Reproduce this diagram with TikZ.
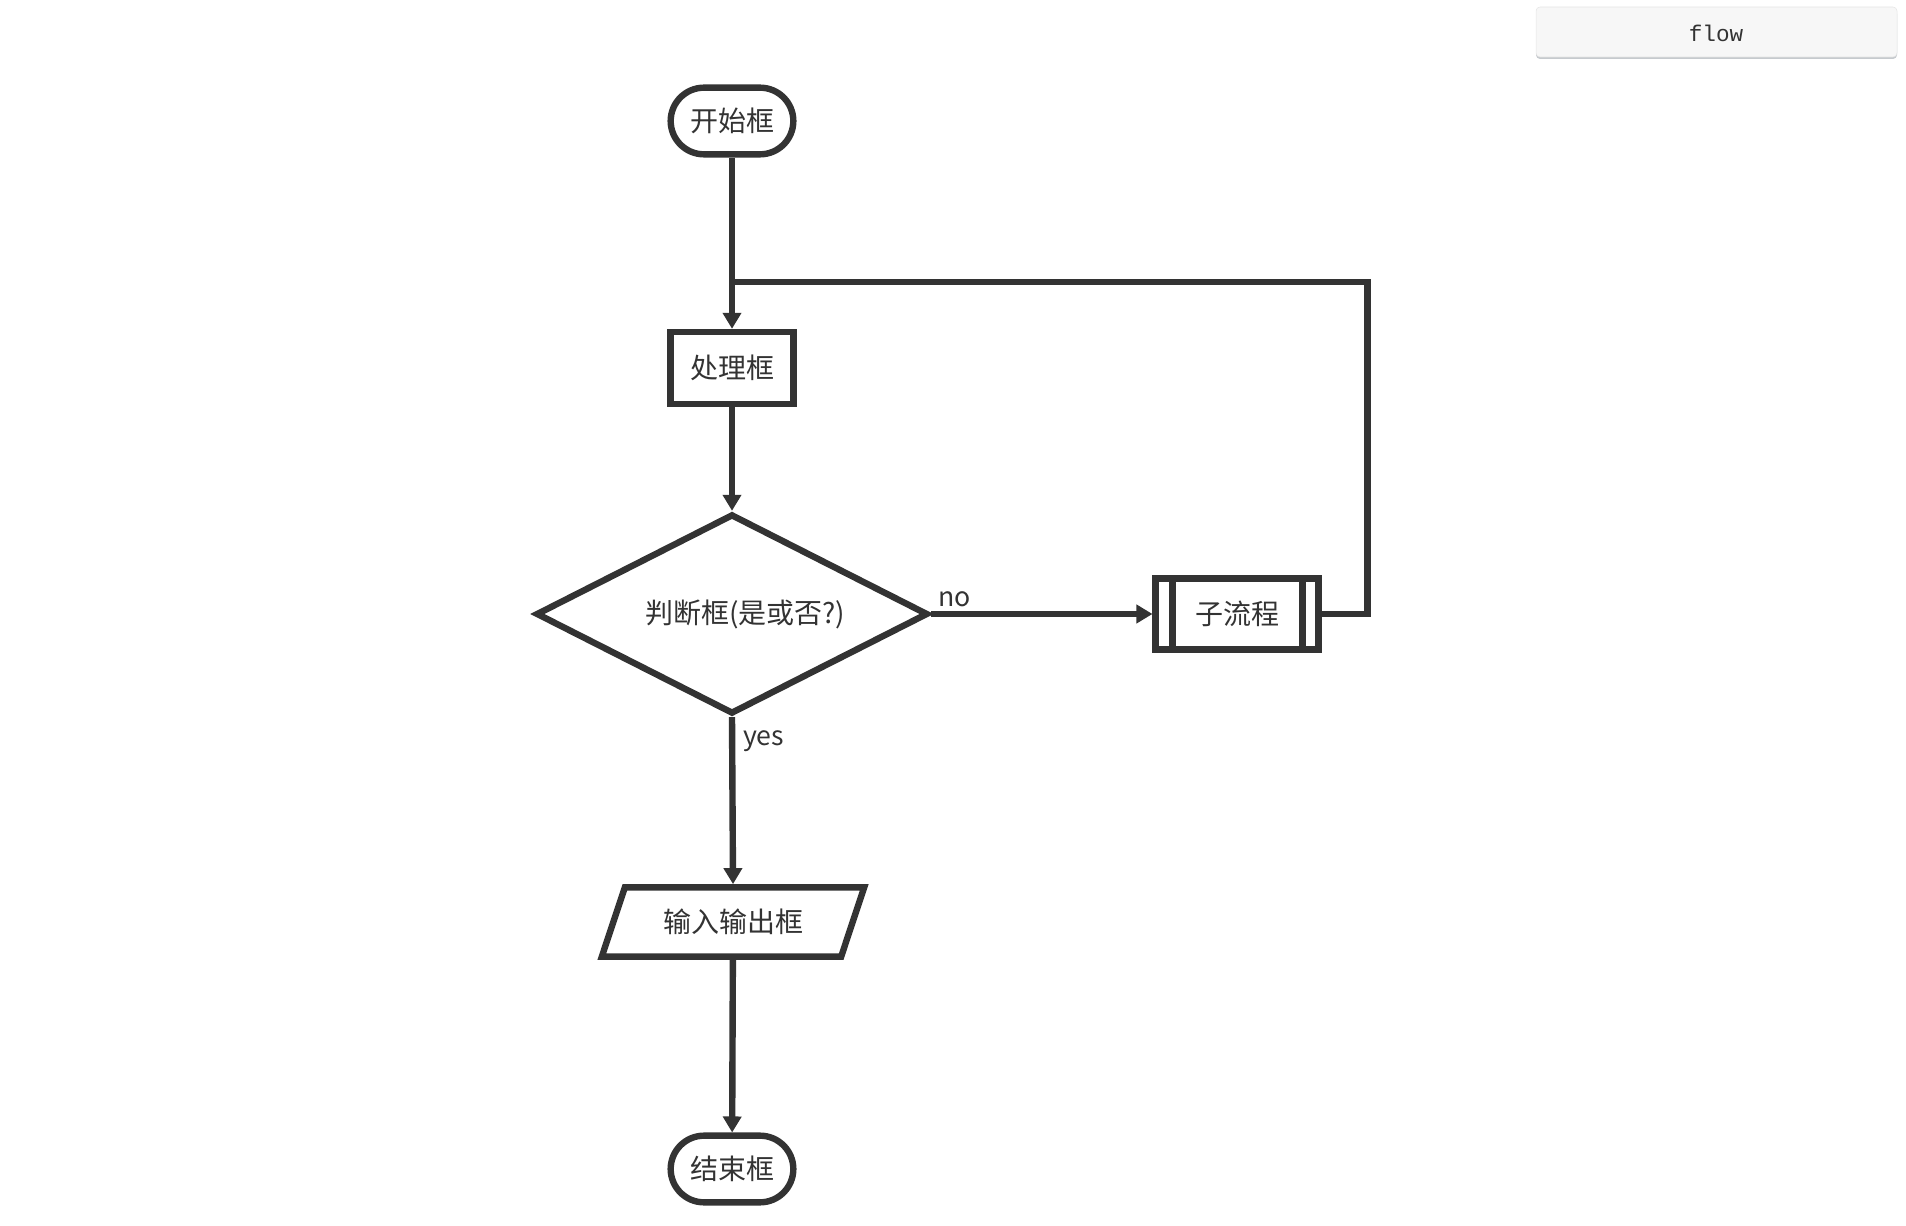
\documentclass[tikz,border=0pt]{standalone}
\usepackage{fontspec}
\setmainfont{Noto Sans CJK SC}
\newfontfamily\codefont{Liberation Mono}
\usetikzlibrary{arrows.meta,positioning,calc,shapes.geometric}
\definecolor{cLine}{HTML}{333333}
\definecolor{cBtn}{HTML}{F7F7F7}
\definecolor{cBtnEdge}{HTML}{E4E4E4}
\definecolor{cShadow}{HTML}{C6CACE}

\begin{document}
\begin{tikzpicture}[x=0.75pt,y=-0.75pt,
  box/.style={draw=cLine,line width=4.8pt,fill=white,text=cLine,inner sep=0pt,
    font=\fontsize{21}{25}\selectfont},
  terminal/.style={box,rounded corners=25pt,minimum width=92pt,minimum height=50pt},
  process/.style={box,minimum width=92pt,minimum height=54pt},
  decision/.style={box,diamond,aspect=2,minimum width=294pt,minimum height=150pt},
  iobox/.style={box,trapezium,trapezium left angle=60,trapezium right angle=120,
    trapezium stretches=true,minimum width=197pt,minimum height=52pt},
  subproc/.style={box,minimum width=122pt,minimum height=53pt},
  flow/.style={draw=cLine,line width=4.8pt,-{Triangle[length=12pt,width=13.5pt]}},
  link/.style={draw=cLine,line width=4.8pt},
  lbl/.style={text=cLine,inner sep=3pt,font=\fontsize{20}{24}\selectfont}]
  \useasboundingbox (0,0) rectangle (1906,1226);

  % button in the corner
  \fill[cShadow,rounded corners=3pt] (1536,10) rectangle (1897,59);
  \draw[cBtnEdge,fill=cBtn,rounded corners=3pt] (1536,7) rectangle (1897,57);
  \node[text=cLine,font=\codefont\fontsize{17}{20}\selectfont] (btn) at (1716,33) {flow};

  \node[terminal] (start) at (732,121) {开始框};
  \node[process] (proc) at (732,368) {处理框};
  \node[decision] (dec) at (732,614) {\hspace*{20pt}判断框(是或否?)};
  \node[subproc] (sub) at (1237,614) {子流程};
  \node[iobox] (io) at (733,922) {输入输出框};
  \node[terminal] (stop) at (732,1169) {结束框};
  \coordinate (join) at (732,282);

  \draw[link] ($(sub.north west)+(20,0)$) -- ($(sub.south west)+(20,0)$);
  \draw[link] ($(sub.north east)+(-19,0)$) -- ($(sub.south east)+(-19,0)$);

  \draw[flow] (start) -- (proc);
  \draw[flow] (proc) -- (dec);
  \draw[flow] (dec.east) -- (sub.west) node[lbl,pos=0,above right]{no};
  \draw[flow] (dec.south) -- (io.north) node[lbl,pos=0,below right,xshift=3pt,yshift=-5pt]{yes};
  \draw[flow] (io) -- (stop);
  \draw[link] (sub.east) -- ++(46,0) |- (join);
\end{tikzpicture}
\end{document}
